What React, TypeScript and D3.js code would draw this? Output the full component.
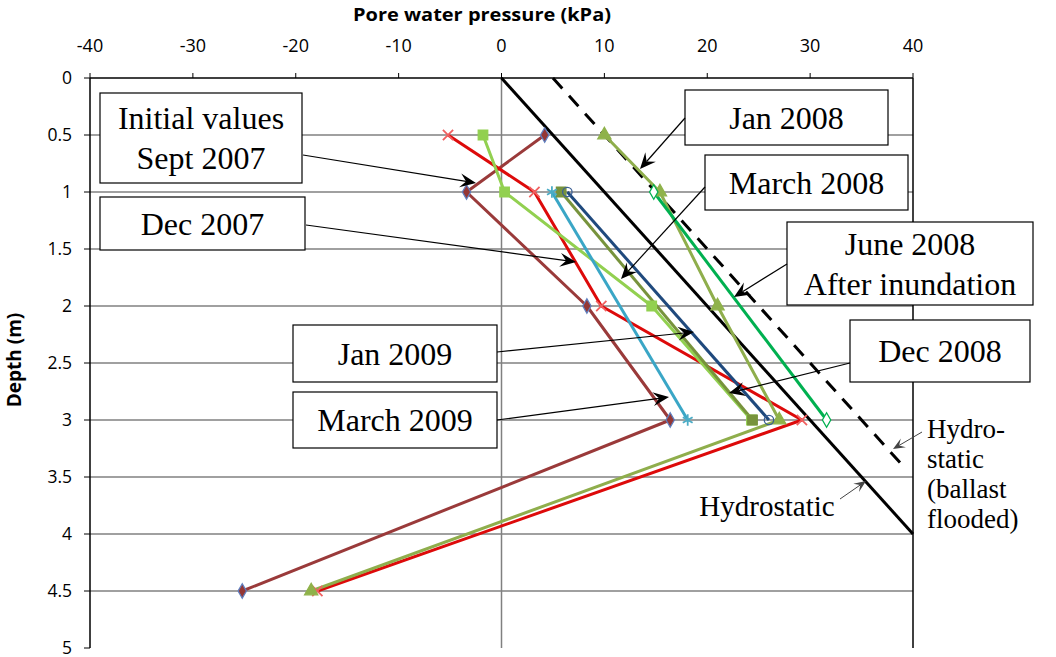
import React from "react";
import * as d3 from "d3";

// ---- Data ----
const X_TICKS = [-40, -30, -20, -10, 0, 10, 20, 30, 40];
const Y_TICKS = [0, 0.5, 1, 1.5, 2, 2.5, 3, 3.5, 4, 4.5, 5];

const DEPTH_FULL = [0.5, 1, 2, 3, 4.5];
const DEPTH_FOUR = [0.5, 1, 2, 3];
const DEPTH_TWO = [1, 3];

const SEPT_2007 = [4.2, -3.4, 8.3, 16.4, -25.2];
const DEC_2007 = [-5.2, 3.2, 9.7, 29.2, -17.9];
const JAN_2008 = [10, 15.4, 21, 27, -18.5];
const MARCH_2008 = [-1.8, 0.3, 14.6, 24.3];
const JUNE_2008 = [14.8, 31.6];
const DEC_2008 = [5.8, 24.4];
const JAN_2009 = [6.4, 26.0];
const MARCH_2009 = [4.9, 18.1];

const HYDRO_DEPTH = [0, 4];
const HYDRO_P = [0, 40];
const FLOOD_DEPTH = [0, 3.4];
const FLOOD_P = [5, 39];

type Series = {
  name: string;
  depth: number[];
  values: number[];
  color: string;
  marker: string;
  mFill: string;
  mStroke: string;
};

const SERIES: Series[] = [
  { name: "Sept 2007", depth: DEPTH_FULL, values: SEPT_2007, color: "#9a3a3a", marker: "diamond", mFill: "#953735", mStroke: "#5f7fbf" },
  { name: "Dec 2007", depth: DEPTH_FULL, values: DEC_2007, color: "#dd0a0a", marker: "times", mFill: "none", mStroke: "#f06060" },
  { name: "Jan 2008", depth: DEPTH_FULL, values: JAN_2008, color: "#8fae4c", marker: "triangle", mFill: "#8fb24a", mStroke: "#8fb24a" },
  { name: "March 2008", depth: DEPTH_FOUR, values: MARCH_2008, color: "#92d050", marker: "square", mFill: "#92d050", mStroke: "#92d050" },
  { name: "June 2008", depth: DEPTH_TWO, values: JUNE_2008, color: "#00b050", marker: "diamondHollow", mFill: "#ffffff", mStroke: "#00b050" },
  { name: "Dec 2008", depth: DEPTH_TWO, values: DEC_2008, color: "#77933c", marker: "square", mFill: "#77933c", mStroke: "#77933c" },
  { name: "Jan 2009", depth: DEPTH_TWO, values: JAN_2009, color: "#1f497d", marker: "circle", mFill: "none", mStroke: "#3b5f95" },
  { name: "March 2009", depth: DEPTH_TWO, values: MARCH_2009, color: "#3aa6c6", marker: "asterisk", mFill: "none", mStroke: "#4bacc6" },
];

const x = d3.scaleLinear().domain([-40, 40]).range([90, 913]);
const y = d3.scaleLinear().domain([0, 5]).range([78, 648]);

const serif = "'Liberation Serif', 'Times New Roman', serif";
const narrow = "'Liberation Sans Narrow', 'Arial Narrow', 'Open Sans', sans-serif";
const sans = "'Open Sans', 'Noto Sans', sans-serif";

function markerPath(kind: string): string {
  const s = d3.symbol();
  switch (kind) {
    case "diamond":
    case "diamondHollow":
      return s.type(d3.symbolDiamond).size(60)() as string;
    case "triangle":
      return s.type(d3.symbolTriangle).size(75)() as string;
    case "square":
      return s.type(d3.symbolSquare).size(90)() as string;
    case "circle":
      return s.type(d3.symbolCircle).size(70)() as string;
    case "times":
      return s.type((d3 as any).symbolTimes || d3.symbolCross).size(70)() as string;
    case "asterisk":
      return s.type((d3 as any).symbolAsterisk || d3.symbolCross).size(90)() as string;
  }
  return "";
}

type Box = { x: number; y: number; w: number; h: number; lines: string[] };
const BOXES: Box[] = [
  { x: 100, y: 93, w: 202, h: 90, lines: ["Initial values", "Sept 2007"] },
  { x: 100, y: 197, w: 205, h: 53, lines: ["Dec 2007"] },
  { x: 685, y: 90, w: 203, h: 55, lines: ["Jan 2008"] },
  { x: 705, y: 155, w: 203, h: 55, lines: ["March 2008"] },
  { x: 787, y: 222, w: 246, h: 83, lines: ["June 2008", "After inundation"] },
  { x: 293, y: 325, w: 204, h: 57, lines: ["Jan 2009"] },
  { x: 850, y: 320, w: 180, h: 62, lines: ["Dec 2008"] },
  { x: 293, y: 392, w: 204, h: 56, lines: ["March 2009"] },
];

const ARROWS = [
  { x1: 303, y1: 155, x2: 476, y2: 183, big: true },
  { x1: 306, y1: 225, x2: 576, y2: 262, big: true },
  { x1: 685, y1: 118, x2: 640, y2: 169, big: true },
  { x1: 705, y1: 187, x2: 621, y2: 279, big: true },
  { x1: 787, y1: 264, x2: 734, y2: 297, big: true },
  { x1: 497, y1: 352, x2: 694, y2: 332, big: true },
  { x1: 850, y1: 363, x2: 729, y2: 393, big: true },
  { x1: 497, y1: 420, x2: 669, y2: 397, big: true },
  { x1: 840, y1: 499, x2: 866, y2: 481, big: false },
  { x1: 922, y1: 432, x2: 893, y2: 449, big: false },
];

function Arrow({ a }: { a: any }) {
  const ang = Math.atan2(a.y2 - a.y1, a.x2 - a.x1);
  const L = a.big ? 16 : 12;
  const W = a.big ? 7 : 5;
  const N = a.big ? 10 : 7;
  const c = Math.cos(ang), s = Math.sin(ang);
  const p = (dx: number, dy: number) => `${a.x2 - dx * c + dy * s},${a.y2 - dx * s - dy * c}`;
  const col = a.big ? "#000" : "#444";
  return (
    <g>
      <line x1={a.x1} y1={a.y1} x2={a.x2 - N * c} y2={a.y2 - N * s} stroke={col} strokeWidth={a.big ? 1.2 : 1} />
      <polygon points={`${a.x2},${a.y2} ${p(L, W)} ${p(N, 0)} ${p(L, -W)}`} fill={col} />
    </g>
  );
}

export default function App() {
  const line = d3
    .line<[number, number]>()
    .x((d) => x(d[1]))
    .y((d) => y(d[0]));

  return (
    <svg width={1056} height={657} style={{ position: "absolute", left: 0, top: 0, background: "#fff" }}>
      <rect width={1056} height={657} fill="#fff" />
      {/* gridlines */}
      {Y_TICKS.filter((t) => t > 0 && t < 5).map((t) => (
        <line key={"g" + t} x1={x(-40)} x2={x(40)} y1={y(t)} y2={y(t)} stroke="#808080" strokeWidth={1.5} />
      ))}
      <line x1={x(0)} x2={x(0)} y1={y(0)} y2={y(5)} stroke="#808080" strokeWidth={1.5} />
      <line x1={x(40)} x2={x(40)} y1={y(0)} y2={y(5)} stroke="#000" strokeWidth={1.5} />

      {/* top axis */}
      <line x1={x(-40)} x2={x(40)} y1={y(0)} y2={y(0)} stroke="#000" strokeWidth={1.5} />
      {X_TICKS.map((t) => (
        <g key={"xt" + t}>
          <line x1={x(t)} x2={x(t)} y1={y(0) - 5} y2={y(0)} stroke="#000" strokeWidth={1} />
          <text x={x(t)} y={52} textAnchor="middle" fontFamily={narrow} fontSize={18} fill="#000">
            {t}
          </text>
        </g>
      ))}
      <text
        x={482}
        y={21}
        textAnchor="middle"
        fontFamily={sans}
        fontSize={17}
        fontWeight="bold"
        fill="#000"
        textLength={258}
        lengthAdjust="spacingAndGlyphs"
      >
        Pore water pressure (kPa)
      </text>

      {/* left axis */}
      <line x1={x(-40)} x2={x(-40)} y1={y(0)} y2={y(5)} stroke="#000" strokeWidth={1.5} />
      {Y_TICKS.map((t) => (
        <g key={"yt" + t}>
          <line x1={x(-40) - 6} x2={x(-40)} y1={y(t)} y2={y(t)} stroke="#000" strokeWidth={1} />
          <text x={72} y={y(t) + 5.5} textAnchor="end" fontFamily={sans} fontSize={17.5} fill="#000">
            {t}
          </text>
        </g>
      ))}
      <g transform="translate(21,360) rotate(-90)">
        <text
          x={0}
          y={0}
          textAnchor="middle"
          fontFamily={sans}
          fontSize={19}
          fontWeight="bold"
          fill="#000"
        >
          Depth (m)
        </text>
      </g>

      {/* hydrostatic lines */}
      <path
        d={line(HYDRO_DEPTH.map((d, i) => [d, HYDRO_P[i]] as [number, number])) as string}
        stroke="#000"
        strokeWidth={3}
        fill="none"
      />
      <path
        d={line(FLOOD_DEPTH.map((d, i) => [d, FLOOD_P[i]] as [number, number])) as string}
        stroke="#000"
        strokeWidth={3}
        strokeDasharray="14 10"
        fill="none"
      />

      {/* series */}
      {SERIES.map((s) => (
        <path
          key={"l" + s.name}
          d={line(s.depth.map((d, i) => [d, s.values[i]] as [number, number])) as string}
          stroke={s.color}
          strokeWidth={3}
          fill="none"
          strokeLinejoin="round"
        />
      ))}
      {SERIES.map((s) =>
        s.depth.map((d, i) => (
          <path
            key={"m" + s.name + i}
            d={markerPath(s.marker)}
            transform={`translate(${x(s.values[i])},${y(d)})`}
            fill={s.mFill}
            stroke={s.mStroke}
            strokeWidth={s.marker === "times" || s.marker === "asterisk" ? 1.8 : 1.3}
          />
        ))
      )}

      {/* annotation boxes */}
      {BOXES.map((b, i) => (
        <g key={"b" + i}>
          <rect x={b.x} y={b.y} width={b.w} height={b.h} fill="#fff" stroke="#000" strokeWidth={1.2} />
          {b.lines.map((ln, j) => (
            <text
              key={j}
              x={b.x + b.w / 2}
              y={b.y + b.h / 2 + (j - (b.lines.length - 1) / 2) * 40 + 11}
              textAnchor="middle"
              fontFamily={serif}
              fontSize={32}
              fill="#000"
            >
              {ln}
            </text>
          ))}
        </g>
      ))}
      {ARROWS.map((a, i) => (
        <Arrow key={"a" + i} a={a} />
      ))}

      <text x={767} y={516} textAnchor="middle" fontFamily={serif} fontSize={29} fill="#000">
        Hydrostatic
      </text>
      {["Hydro-", "static", "(ballast", "flooded)"].map((t, i) => (
        <text key={"h" + i} x={927} y={438 + i * 30} fontFamily={serif} fontSize={27} fill="#000">
          {t}
        </text>
      ))}
    </svg>
  );
}
